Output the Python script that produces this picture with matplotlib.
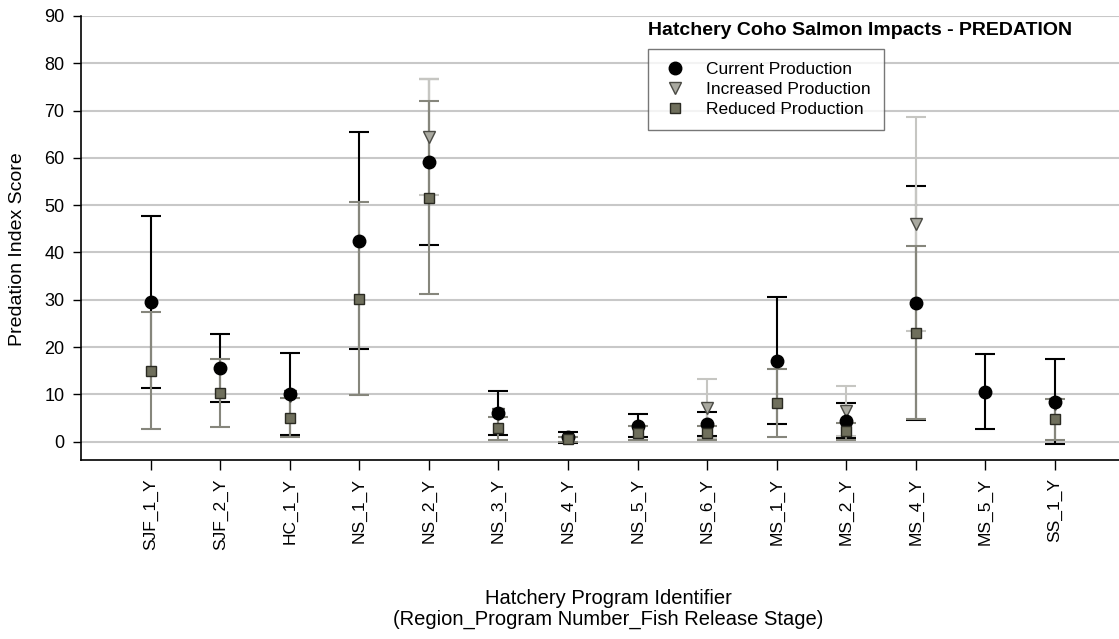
import numpy as np
import matplotlib
matplotlib.use("Agg")
import matplotlib.pyplot as plt
from matplotlib.lines import Line2D

plt.rcParams["font.family"] = ["Liberation Sans", "DejaVu Sans"]

# 各孵化场项目（区域_项目编号_放流阶段）
programs = ["SJF_1_Y", "SJF_2_Y", "HC_1_Y", "NS_1_Y", "NS_2_Y", "NS_3_Y", "NS_4_Y",
            "NS_5_Y", "NS_6_Y", "MS_1_Y", "MS_2_Y", "MS_4_Y", "MS_5_Y", "SS_1_Y"]

nan = np.nan
# 现有产量
current = [29.5, 15.6, 10.1, 42.5, 59.1, 6.1, 0.9, 3.4, 3.8, 17.1, 4.4, 29.3, 10.6, 8.5]
current_err = [18.2, 7.2, 8.65, 23.0, 17.5, 4.7, 1.2, 2.5, 2.5, 13.4, 3.7, 24.8, 8.0, 9.0]
# 增产
increased = [nan, nan, 9.6, nan, 64.4, 5.8, nan, nan, 7.05, nan, 6.5, 46.0, nan, 8.0]
increased_err = [nan, nan, nan, nan, 12.2, nan, nan, nan, 6.2, nan, 5.2, 22.6, nan, nan]
# 减产
reduced = [15.0, 10.3, 5.1, 30.2, 51.6, 2.8, 0.5, 1.8, 1.9, 8.1, 2.2, 23.0, nan, 4.7]
reduced_err = [12.4, 7.2, 4.2, 20.4, 20.4, 2.5, 0.5, 1.5, 1.5, 7.2, 1.8, 18.3, nan, 4.3]

C_CUR = "black"
C_INC_BAR, C_INC_FACE = "#c6c6c2", "#a9a9a0"
C_RED_BAR, C_RED_FACE = "#86867c", "#6f6f5c"

fig = plt.figure(figsize=(11.19, 6.39), dpi=100)
ax = fig.add_axes([0.0724, 0.2801, 0.9276, 0.6949])

x = np.arange(len(programs))


def bars(vals, errs, color, z):
    """只画有误差值的误差棒（不画点）。"""
    v = np.asarray(vals, float)
    e = np.asarray(errs, float)
    m = ~np.isnan(e)
    ax.errorbar(x[m], v[m], yerr=e[m], fmt="none", ecolor=color, elinewidth=1.5,
                capsize=7, capthick=1.5, zorder=z)


bars(current, current_err, C_CUR, 3)
bars(increased, increased_err, C_INC_BAR, 4)
bars(reduced, reduced_err, C_RED_BAR, 5)

# 散点：三角在下、圆点居中、方块在上
ax.plot(x, increased, ls="", marker="v", ms=8.5, mfc=C_INC_FACE, mec="#4a4a44",
        mew=1.0, zorder=6)
ax.plot(x, current, ls="", marker="o", ms=9, mfc=C_CUR, mec=C_CUR, zorder=7)
ax.plot(x, reduced, ls="", marker="s", ms=7.5, mfc=C_RED_FACE, mec="#2a2a22",
        mew=1.0, zorder=8)

ax.set_xlim(-1.0, 13.92)
ax.set_ylim(-3.87, 90)
ax.set_yticks(range(0, 91, 10))
ax.set_xticks(x)
ax.set_xticklabels(programs, rotation=90, fontsize=12.5)
ax.tick_params(axis="y", labelsize=13, length=6, width=1, direction="out", pad=6)
ax.tick_params(axis="x", length=7, width=1, direction="out", pad=6)

ax.yaxis.grid(True, color="#c8c8c8", lw=1.5)
ax.set_axisbelow(True)
for s in ("top", "right"):
    ax.spines[s].set_visible(False)
for s in ("left", "bottom"):
    ax.spines[s].set_linewidth(1.2)

ax.set_ylabel("Predation Index Score", fontsize=14)
ax.yaxis.set_label_coords(-0.053, 0.475)
fig.text(0.5435, 0.0465, "Hatchery Program Identifier\n(Region_Program Number_Fish Release Stage)",
         ha="center", va="center", fontsize=14.5, linespacing=1.12)

ax.text(0.751, 0.968, "Hatchery Coho Salmon Impacts - PREDATION", transform=ax.transAxes,
        ha="center", va="center", fontsize=14, fontweight="bold")

handles = [
    Line2D([0], [0], ls="", marker="o", ms=9, mfc=C_CUR, mec=C_CUR, label="Current Production"),
    Line2D([0], [0], ls="", marker="v", ms=8.5, mfc=C_INC_FACE, mec="#4a4a44",
           label="Increased Production"),
    Line2D([0], [0], ls="", marker="s", ms=7.5, mfc=C_RED_FACE, mec="#2a2a22",
           label="Reduced Production"),
]
leg = ax.legend(handles=handles, loc="upper left", bbox_to_anchor=(0.546, 0.926),
                borderaxespad=0, fontsize=12.5, frameon=True, fancybox=False,
                edgecolor="#555555", handletextpad=1.0, labelspacing=0.28,
                borderpad=0.75, handlelength=1.6)
leg.get_frame().set_linewidth(1.0)

fig.savefig("out.png", dpi=100)
